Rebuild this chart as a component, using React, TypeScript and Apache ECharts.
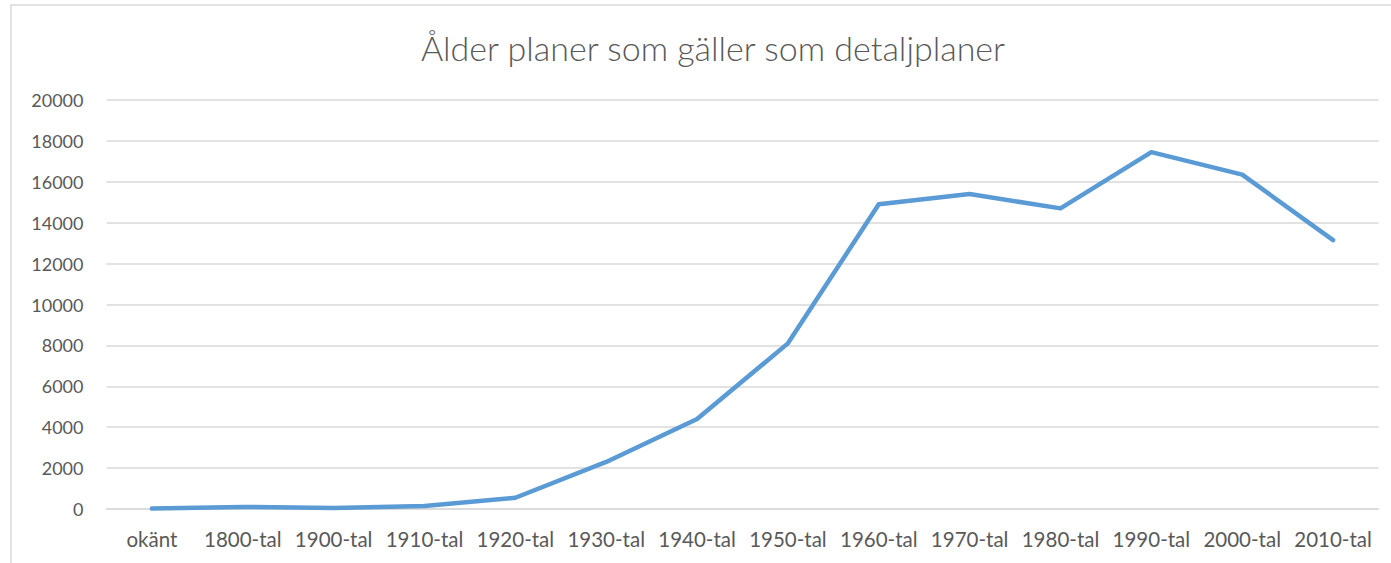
import React, { useEffect, useRef } from "react";
import * as echarts from "echarts";

const title = "Ålder planer som gäller som detaljplaner";
const categories = [
  "okänt", "1800-tal", "1900-tal", "1910-tal", "1920-tal", "1930-tal", "1940-tal",
  "1950-tal", "1960-tal", "1970-tal", "1980-tal", "1990-tal", "2000-tal", "2010-tal",
];
const values = [20, 100, 50, 150, 550, 2300, 4400, 8100, 14900, 15400, 14700, 17450, 16350, 13150];
const yMin = 0;
const yMax = 20000;
const yStep = 2000;

export default function App() {
  const ref = useRef<HTMLDivElement>(null);
  useEffect(() => {
    if (!ref.current) return;
    const chart = echarts.init(ref.current, undefined, { renderer: "svg" });
    const font = "Lato, sans-serif";
    chart.setOption({
      animation: false,
      backgroundColor: "#ffffff",
      title: {
        text: title,
        left: 708,
        textAlign: "center",
        top: 25,
        textStyle: { fontFamily: font, fontWeight: 300, fontSize: 34, color: "#595959" },
      },
      graphic: [
        {
          type: "rect",
          shape: { x: 11, y: 5, width: 1450, height: 650 },
          style: { fill: "none", stroke: "#d9d9d9", lineWidth: 1.5 },
          silent: true,
          z: -1,
        },
      ],
      grid: { left: 106.5, right: 12.5, top: 100, bottom: 54, containLabel: false },
      xAxis: {
        type: "category",
        data: categories,
        boundaryGap: true,
        axisLine: { show: true, lineStyle: { color: "#d9d9d9", width: 1.5 } },
        axisTick: { show: false },
        axisLabel: { fontFamily: font, fontSize: 20.5, color: "#595959", margin: 19, interval: 0 },
        splitLine: { show: false },
      },
      yAxis: {
        type: "value",
        min: yMin,
        max: yMax,
        interval: yStep,
        axisLine: { show: false },
        axisTick: { show: false },
        axisLabel: {
          fontFamily: font,
          fontSize: 18,
          color: "#595959",
          margin: 23,
          formatter: (v: number) => String(v),
        },
        splitLine: { show: true, lineStyle: { color: "#d9d9d9", width: 1.5 } },
      },
      series: [
        {
          type: "line",
          data: values,
          showSymbol: false,
          symbol: "none",
          lineStyle: { color: "#5b9bd5", width: 4.5, cap: "round", join: "round" },
          itemStyle: { color: "#5b9bd5" },
        },
      ],
    });
    return () => chart.dispose();
  }, []);
  return (
    <div
      ref={ref}
      style={{ position: "fixed", left: 0, top: 0, width: 1391, height: 563 }}
    />
  );
}
